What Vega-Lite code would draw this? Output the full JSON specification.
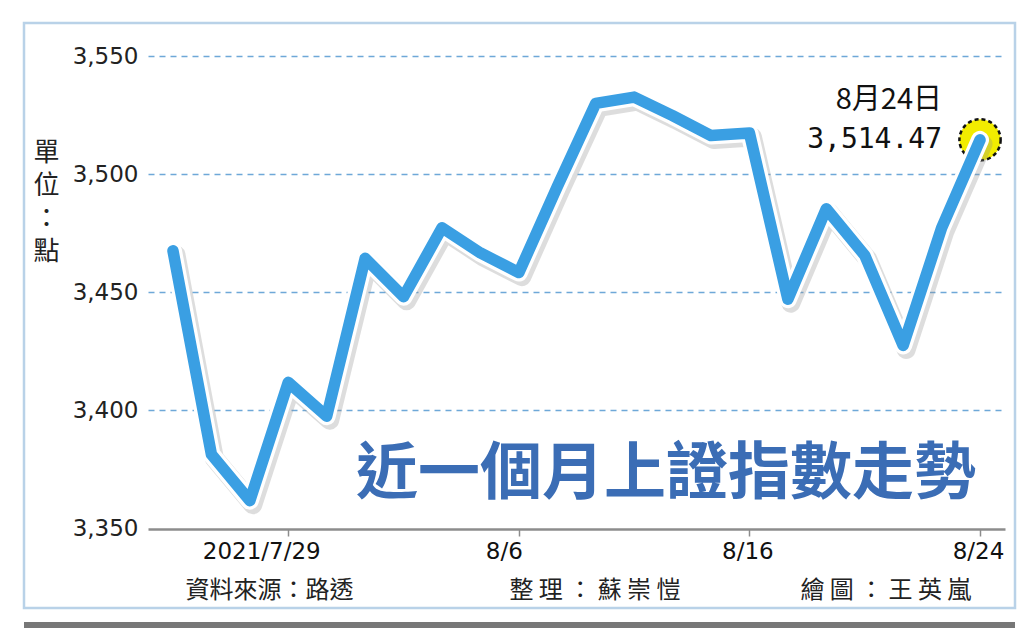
{
  "$schema": "https://vega.github.io/schema/vega-lite/v6.json",
  "width": 991,
  "height": 585,
  "autosize": "none",
  "padding": {"left": 24, "top": 23, "right": 9, "bottom": 23},
  "background": "white",
  "config": {
    "view": {"stroke": "#b9d2e8", "strokeWidth": 2.5},
    "font": "DejaVu Sans"
  },
  "data": {
    "values": [
      {"date": "7/26", "close": 3467.44},
      {"date": "7/27", "close": 3381.18},
      {"date": "7/28", "close": 3361.59},
      {"date": "7/29", "close": 3411.72},
      {"date": "7/30", "close": 3397.36},
      {"date": "8/2", "close": 3464.29},
      {"date": "8/3", "close": 3447.99},
      {"date": "8/4", "close": 3477.22},
      {"date": "8/5", "close": 3466.56},
      {"date": "8/6", "close": 3458.23},
      {"date": "8/9", "close": 3494.63},
      {"date": "8/10", "close": 3529.93},
      {"date": "8/11", "close": 3532.62},
      {"date": "8/12", "close": 3524.74},
      {"date": "8/13", "close": 3516.3},
      {"date": "8/16", "close": 3517.34},
      {"date": "8/17", "close": 3446.98},
      {"date": "8/18", "close": 3485.29},
      {"date": "8/19", "close": 3465.55},
      {"date": "8/20", "close": 3427.33},
      {"date": "8/23", "close": 3477.13},
      {"date": "8/24", "close": 3514.47}
    ]
  },
  "layer": [
    {
      "encoding": {
        "x": {
          "field": "date",
          "type": "ordinal",
          "sort": null,
          "scale": {
            "type": "point",
            "domain": ["7/26", "7/27", "7/28", "7/29", "7/30", "8/2", "8/3", "8/4", "8/5", "8/6", "8/9", "8/10", "8/11", "8/12", "8/13", "8/16", "8/17", "8/18", "8/19", "8/20", "8/23", "8/24"],
            "range": [124, 981],
            "padding": 0.65
          },
          "axis": {
            "values": ["7/29", "8/6", "8/16", "8/24"],
            "labelExpr": "datum.value == '7/29' ? '2021/7/29' : datum.value",
            "labelAngle": 0,
            "offset": -79,
            "grid": false,
            "domainColor": "#8c8c8c",
            "domainWidth": 2.5,
            "tickColor": "#8c8c8c",
            "tickSize": 7,
            "tickWidth": 1.5,
            "labelFont": "DejaVu Sans",
            "labelFontSize": 23,
            "labelColor": "#111111",
            "labelPadding": 4,
            "labelOffset": {
              "condition": [
                {"test": "datum.value == '7/29'", "value": -27},
                {"test": "datum.value == '8/6'", "value": -15}
              ],
              "value": -2
            },
            "title": "資料來源：路透　　　　　　\u2002整 理 ： 蘇 崇 愷　　　　　繪 圖 ： 王 英 嵐",
            "titleFont": "Noto Sans CJK TC",
            "titleFontSize": 24,
            "titleFontWeight": "normal",
            "titleColor": "#222222",
            "titleAnchor": "start",
            "titleAlign": "left",
            "titleBaseline": "middle",
            "titleX": 161,
            "titleY": 61
          }
        },
        "y": {
          "field": "close",
          "type": "quantitative",
          "scale": {"domain": [3316.1, 3564], "nice": false, "zero": false},
          "axis": {
            "values": [3350, 3400, 3450, 3500, 3550],
            "format": ",d",
            "offset": -124,
            "domain": false,
            "ticks": false,
            "labelPadding": 10,
            "labelFont": "DejaVu Sans",
            "labelFontSize": 23,
            "labelColor": "#222222",
            "grid": true,
            "gridColor": "#6ea8d8",
            "gridDash": [6, 5],
            "gridWidth": 1.5,
            "gridOpacity": {"condition": {"test": "datum.value == 3350", "value": 0}, "value": 1},
            "title": ["單", "位", "：", "點"],
            "titleAngle": 0,
            "titleFont": "Noto Sans CJK TC",
            "titleFontSize": 26,
            "titleFontWeight": "normal",
            "titleColor": "#222222",
            "titleLineHeight": 33,
            "titleAlign": "center",
            "titleBaseline": "top",
            "titleX": -102,
            "titleY": 116
          }
        }
      },
      "layer": [
        {
          "transform": [{"filter": "datum.date == '8/24'"}],
          "mark": {"type": "circle", "size": 1700, "fill": "#f2ec00", "fillOpacity": 1, "stroke": "#111111", "strokeWidth": 2.5, "strokeDash": [4, 3]}
        },
        {
          "mark": {"type": "line", "color": "#8f8f8f", "strokeWidth": 19, "opacity": 0.3, "strokeJoin": "round", "strokeCap": "round", "xOffset": 3, "yOffset": 4}
        },
        {
          "mark": {"type": "line", "color": "#ffffff", "strokeWidth": 18, "strokeJoin": "round", "strokeCap": "round"}
        },
        {
          "mark": {"type": "line", "color": "#3a9fe3", "strokeWidth": 11.5, "strokeJoin": "round", "strokeCap": "round"}
        },
        {
          "transform": [{"filter": "datum.date == '8/24'"}],
          "mark": {"type": "text", "align": "right", "baseline": "middle", "dx": -38, "dy": 0, "font": "DejaVu Sans Mono", "fontSize": 28, "color": "#111111"},
          "encoding": {"text": {"field": "close", "type": "quantitative", "format": ",.2f"}}
        },
        {
          "transform": [{"filter": "datum.date == '8/24'"}],
          "mark": {"type": "text", "align": "right", "baseline": "middle", "dx": -38, "dy": -40, "font": "Noto Sans CJK TC", "fontSize": 29, "color": "#111111", "text": "8月24日"}
        },
        {
          "transform": [{"filter": "datum.date == '8/24'"}],
          "mark": {"type": "text", "align": "right", "baseline": "middle", "dx": -4, "font": "Noto Sans CJK TC", "fontSize": 62, "fontWeight": "bold", "color": "#3b6db5", "text": "近一個月上證指數走勢"},
          "encoding": {
            "y": {"datum": 3372.5}
          }
        }
      ]
    },
    {
      "mark": {"type": "rule", "color": "#777777", "strokeWidth": 6, "clip": false},
      "encoding": {"y": {"datum": 3308.9}}
    }
  ]
}
